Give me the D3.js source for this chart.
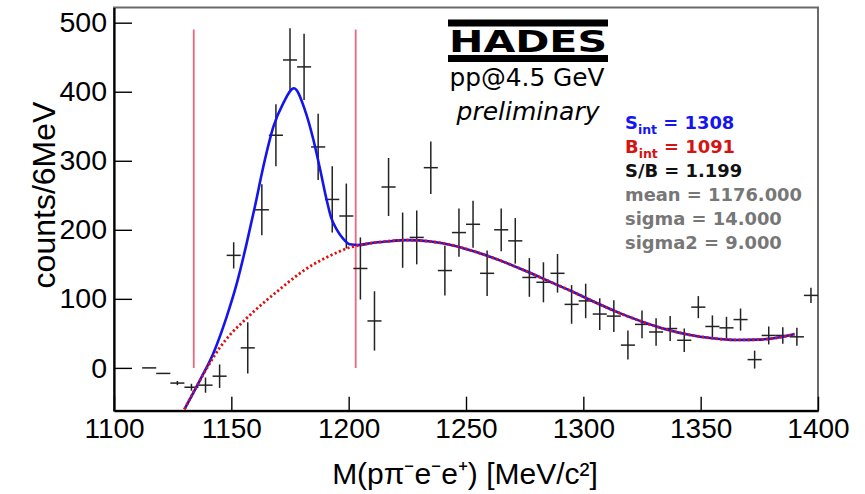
<!DOCTYPE html>
<html><head><meta charset="utf-8">
<script src="https://cdn.jsdelivr.net/npm/d3@7"></script>
<style>body{margin:0;background:#fff;} svg{display:block;}</style>
</head><body><svg id="c" width="865" height="494"></svg>
<script>
// ---- data ----
const binCenters = [1115,1121,1127,1133,1139,1145,1151,1157,1163,1169,1175,1181,1187,1193,1199,1205,1211,1217,1223,1229,1235,1241,1247,1253,1259,1265,1271,1277,1283,1289,1295,1301,1307,1313,1319,1325,1331,1337,1343,1349,1355,1361,1367,1373,1379,1385,1391,1397];
const counts = [0,-8,-22,-28,-25,-12,163,29,229,337,446,436,320,244,220,144,68,262,185,189,290,141,196,208,137,200,184,131,124,137,92,97,78,75,33,63,52,57,40,88,60,58,70,12,47,47,45,105];
const errors = [0,0,3,5,11,17,19,37,37,45,46,48,48,48,47,45,43,42,40,39,38,36,35,34,33,31,33,28,29,28,28,25,23,23,21,20,20,18,17,16,16,16,16,13,13,12,13,11];
const binWidth = 6;

const totalFitMass  = [1130,1136.6,1142.3,1148,1152.3,1156.5,1160,1163.6,1167.9,1172.1,1176.7,1181.4,1185,1187.8,1190.5,1192.5,1195,1197.7,1200.5,1204,1210,1216,1225,1235,1245,1255,1265,1275,1285,1295,1305,1315,1325,1335,1345,1355,1365,1375,1385,1390];
const totalFitValue = [-60,-18,21,74,122,180,233,291,349,383,405,373,330,288,245,218,200,187,179,178,181,183,185,183,177,167,155,141,126,111,95,80,67,56,48,43,40.5,41,45,49];

const bgFitMass  = [1130,1135,1140,1145,1150,1155,1160,1165,1170,1175,1180,1185,1190,1195,1200,1205,1215,1225,1235,1245,1255,1265,1275,1285,1295,1305,1315,1325,1335,1345,1355,1365,1375,1385,1390];
const bgFitValue = [-60,-28,2,29,50,67,83,98,112,126,139,150,159,167,174,178,183,185,183,177,167,155,141,126,111,95,80,67,56,48,43,40.5,41,45,49];

const windowLines = [1134, 1203];
const windowTop = 490;
const xTicks = [1100,1150,1200,1250,1300,1350,1400];
const yTicks = [0,100,200,300,400,500];
const xTitle = "M(pπ⁻e⁻e⁺) [MeV/c²]";
const yTitle = "counts/6MeV";
const statNames = ["S","B","S/B","mean","sigma","sigma2"];
const statSubs  = ["int","int","","","",""];
const statValues = ["1308","1091","1.199","1176.000","14.000","9.000"];
const statColors = ["#1515f0","#d41414","#111111","#777777","#777777","#777777"];

// ---- chart ----
const svg = d3.select("#c");
const x = d3.scaleLinear().domain([1100,1400]).range([114,818]);
const y = d3.scaleLinear().domain([-62,522]).range([410.7,7.5]);

// frame
svg.append("rect").attr("x",114).attr("y",7.5).attr("width",704).attr("height",403.2)
  .attr("fill","none").attr("stroke","#6a6a6a").attr("stroke-width",2);

const tickFont = "'Liberation Sans', Arial, sans-serif";

// x axis minor + major
const gx = svg.append("g").attr("transform",`translate(0,${y.range()[0]})`);
gx.call(d3.axisBottom(x).tickValues(d3.range(1100,1401,10)).tickSize(-7).tickSizeOuter(0).tickFormat(""));
gx.call(d3.axisBottom(x).tickValues(xTicks).tickSize(-14).tickSizeOuter(0).tickPadding(7).tickFormat(d3.format("d")));
gx.selectAll("text").attr("font-family",tickFont).attr("font-size",28).attr("fill","#000");
gx.selectAll("line").attr("stroke","#000").attr("stroke-width",1.4);
gx.selectAll(".domain").attr("stroke","#000").attr("stroke-width",2.2);

const gy = svg.append("g").attr("transform",`translate(${x.range()[0]},0)`);
gy.call(d3.axisLeft(y).tickValues(d3.range(-60,521,20)).tickSize(-9).tickSizeOuter(0).tickFormat(""));
gy.call(d3.axisLeft(y).tickValues(yTicks).tickSize(-18).tickSizeOuter(0).tickPadding(7).tickFormat(d3.format("d")));
gy.selectAll("text").attr("font-family",tickFont).attr("font-size",28.5).attr("fill","#000");
gy.selectAll("line").attr("stroke","#000").attr("stroke-width",1.4);
gy.selectAll(".domain").attr("stroke","#000").attr("stroke-width",2.2);

// window lines
svg.append("g").selectAll("line").data(windowLines).join("line")
  .attr("x1",d=>x(d)).attr("x2",d=>x(d)).attr("y1",y(0)).attr("y2",y(windowTop))
  .attr("stroke","#f0687e").attr("stroke-width",1.8);

// data points with error bars
const pts = svg.append("g").attr("stroke","#222").attr("stroke-width",1.5);
binCenters.forEach((m,i)=>{
  pts.append("line").attr("x1",x(m-binWidth/2)).attr("x2",x(m+binWidth/2)).attr("y1",y(counts[i])).attr("y2",y(counts[i]));
  if (errors[i]>0) pts.append("line").attr("x1",x(m)).attr("x2",x(m)).attr("y1",y(counts[i]-errors[i])).attr("y2",y(counts[i]+errors[i]));
});

// fits
const line = d3.line().x(d=>x(d[0])).y(d=>y(d[1])).curve(d3.curveMonotoneX);
svg.append("path").attr("d",line(totalFitMass.map((m,i)=>[m,totalFitValue[i]])))
  .attr("fill","none").attr("stroke","#1414ee").attr("stroke-width",2.6);
svg.append("path").attr("d",line(bgFitMass.map((m,i)=>[m,bgFitValue[i]])))
  .attr("fill","none").attr("stroke","#dd1010").attr("stroke-width",2.8).attr("stroke-dasharray","2.2,2.4");

// HADES logo
const logo = svg.append("g");
logo.append("rect").attr("x",448).attr("y",19.5).attr("width",160).attr("height",7).attr("fill","#000");
logo.append("rect").attr("x",448).attr("y",55).attr("width",160).attr("height",7).attr("fill","#000");
logo.append("text").attr("x",449).attr("y",51.8).attr("font-family","'DejaVu Sans', sans-serif").attr("font-weight","bold")
  .attr("font-size",31).attr("textLength",158).attr("lengthAdjust","spacingAndGlyphs").text("HADES");
svg.append("text").attr("x",527).attr("y",86).attr("text-anchor","middle").attr("font-family","'DejaVu Sans', sans-serif")
  .attr("font-size",24.8).text("pp@4.5 GeV");
svg.append("text").attr("x",528).attr("y",120).attr("text-anchor","middle").attr("font-family","'DejaVu Sans', sans-serif")
  .attr("font-style","italic").attr("font-size",25).text("preliminary");

// stats box
const st = svg.append("g").attr("font-family","'DejaVu Sans', sans-serif").attr("font-weight","bold").attr("font-size",17.9);
statNames.forEach((n,i)=>{
  const t = st.append("text").attr("x",625).attr("y",128.5+24*i).attr("fill",statColors[i]);
  t.append("tspan").text(n);
  if (statSubs[i]) t.append("tspan").attr("font-size",12.5).attr("dy",5).text(statSubs[i]);
  t.append("tspan").attr("dy",statSubs[i]?-5:0).text(" = "+statValues[i]);
});

// axis titles
svg.append("text").attr("x",465).attr("y",484).attr("text-anchor","middle").attr("font-family",tickFont)
  .attr("font-size",30).text(xTitle);
svg.append("text").attr("transform","translate(55,195) rotate(-90)").attr("text-anchor","middle").attr("font-family",tickFont)
  .attr("font-size",32).text(yTitle);
</script></body></html>
